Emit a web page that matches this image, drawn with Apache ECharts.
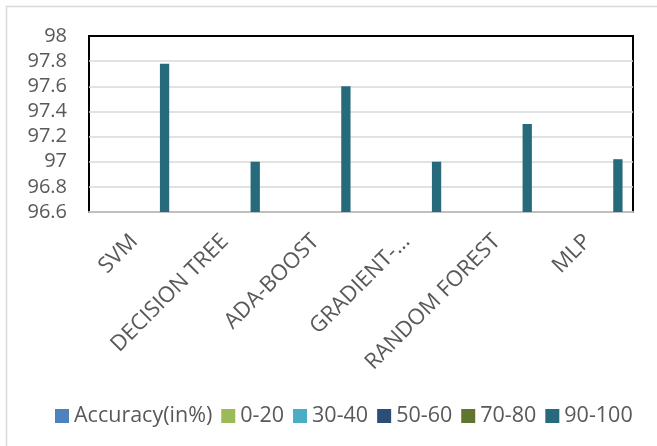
<!DOCTYPE html>
<html>
<head>
<meta charset="utf-8">
<script src="https://cdn.jsdelivr.net/npm/echarts@6/dist/echarts.min.js"></script>
<style>
  html, body { margin: 0; padding: 0; background: #fff; }
  #chart { width: 657px; height: 446px; }
</style>
</head>
<body>
<div id="chart"></div>
<script>
// categories on the x axis
const categories = ['SVM', 'DECISION TREE', 'ADA-BOOST', 'GRADIENT-…', 'RANDOM FOREST', 'MLP'];
// legend entries (only the last one carries values)
const seriesNames = ['Accuracy(in%)', '0-20', '30-40', '50-60', '70-80', '90-100'];
const seriesColors = ['#4F81BD', '#9BBB59', '#4BACC6', '#2C4D75', '#5F7530', '#276A7C'];
const emptyValues = [null, null, null, null, null, null];
const accuracyValues = [97.78, 97.0, 97.6, 97.0, 97.3, 97.02];
// y axis
const yMin = 96.6;
const yMax = 98;
const yStep = 0.2;

const chart = echarts.init(document.getElementById('chart'));
const textColor = '#595959';
const fontFamily = '"Open Sans", "Noto Sans", sans-serif';

const series = seriesNames.map((name, i) => ({
    name: name,
    type: 'bar',
    barWidth: 9.3,
    barGap: '30%',
    itemStyle: { color: seriesColors[i] },
    data: i === seriesNames.length - 1 ? accuracyValues : emptyValues
}));

chart.setOption({
    animation: false,
    textStyle: { fontFamily: fontFamily },
    graphic: [{
        type: 'rect',
        shape: { x: 6.5, y: 6.5, width: 700, height: 500 },
        style: { fill: 'none', stroke: '#d9d9d9', lineWidth: 1.5 },
        silent: true
    }],
    grid: {
        show: true,
        left: 89,
        right: 24,
        top: 36,
        bottom: 234,
        borderColor: '#000',
        borderWidth: 2,
        backgroundColor: 'transparent'
    },
    legend: {
        data: seriesNames,
        left: 50,
        top: 400,
        icon: 'rect',
        itemWidth: 14,
        itemHeight: 14,
        itemGap: 9,
        textStyle: { color: textColor, fontSize: 21.5, fontFamily: fontFamily }
    },
    xAxis: {
        type: 'category',
        data: categories,
        axisLine: { show: true, lineStyle: { color: '#bfbfbf', width: 2 } },
        axisTick: { show: false },
        axisLabel: {
            interval: 0,
            rotate: 45,
            margin: 26,
            color: textColor,
            fontSize: 22,
            fontFamily: fontFamily
        }
    },
    yAxis: {
        type: 'value',
        min: yMin,
        max: yMax,
        interval: yStep,
        axisLine: { show: false },
        axisTick: { show: false },
        axisLabel: { color: textColor, fontSize: 20, margin: 22, fontFamily: fontFamily },
        splitLine: {
            showMinLine: false,
            showMaxLine: false,
            lineStyle: { color: '#d9d9d9', width: 1.5 }
        }
    },
    series: series
});
</script>
</body>
</html>
